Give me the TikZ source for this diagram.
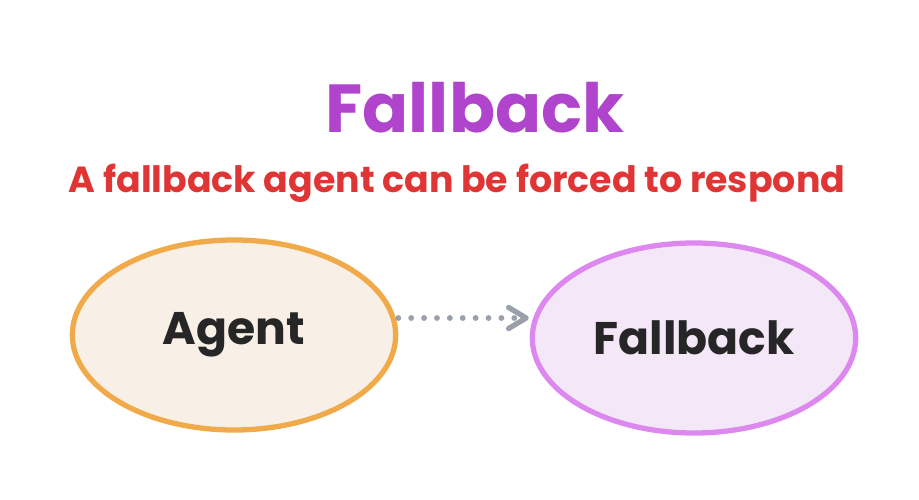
\documentclass[tikz,border=0pt]{standalone}
\usepackage{fontspec}
\setmainfont{Poppins}
\usetikzlibrary{shapes.geometric,arrows.meta}
\definecolor{titlepurple}{HTML}{B044CC}
\definecolor{subred}{HTML}{E03535}
\definecolor{agentline}{HTML}{F0AA4A}
\definecolor{agentfill}{HTML}{F8F0E6}
\definecolor{fbline}{HTML}{DD88EE}
\definecolor{fbfill}{HTML}{F4E8F8}
\definecolor{arrowgray}{HTML}{9AA0AA}
\tikzset{
  blob/.style = {ellipse, line width=4.5pt, minimum width=9.7cm, minimum height=5.7cm,
                 font=\fontsize{39}{44}\selectfont\bfseries, text=black!85},
}
\begin{document}
\begin{tikzpicture}[x=0.03cm,y=-0.03cm]
  \useasboundingbox (0,0) rectangle (919,499);
  \node (title) at (475,108) [text=titlepurple, font=\fontsize{58}{64}\selectfont\bfseries] {Fallback};
  \node (sub) at (457,183) [text=subred, font=\fontsize{31}{36}\selectfont\bfseries] {A fallback agent can be forced to respond};
  \node (agent) at (234,335) [blob, draw=agentline, fill=agentfill] {Agent};
  \node (fallback) at (694,338) [blob, draw=fbline, fill=fbfill] {Fallback};
  \draw [arrowgray, line width=5pt, dash pattern=on 0pt off 11pt, line cap=round]
    (agent.east |- 0,318) -- ([xshift=-6pt]fallback.west |- 0,318);
  \draw [arrowgray, line width=4.5pt, line cap=round, line join=round]
    ([xshift=-18pt,yshift=9pt]fallback.west |- 0,318) -- ([xshift=-3pt]fallback.west |- 0,318)
    -- ([xshift=-18pt,yshift=-9pt]fallback.west |- 0,318);
\end{tikzpicture}
\end{document}
